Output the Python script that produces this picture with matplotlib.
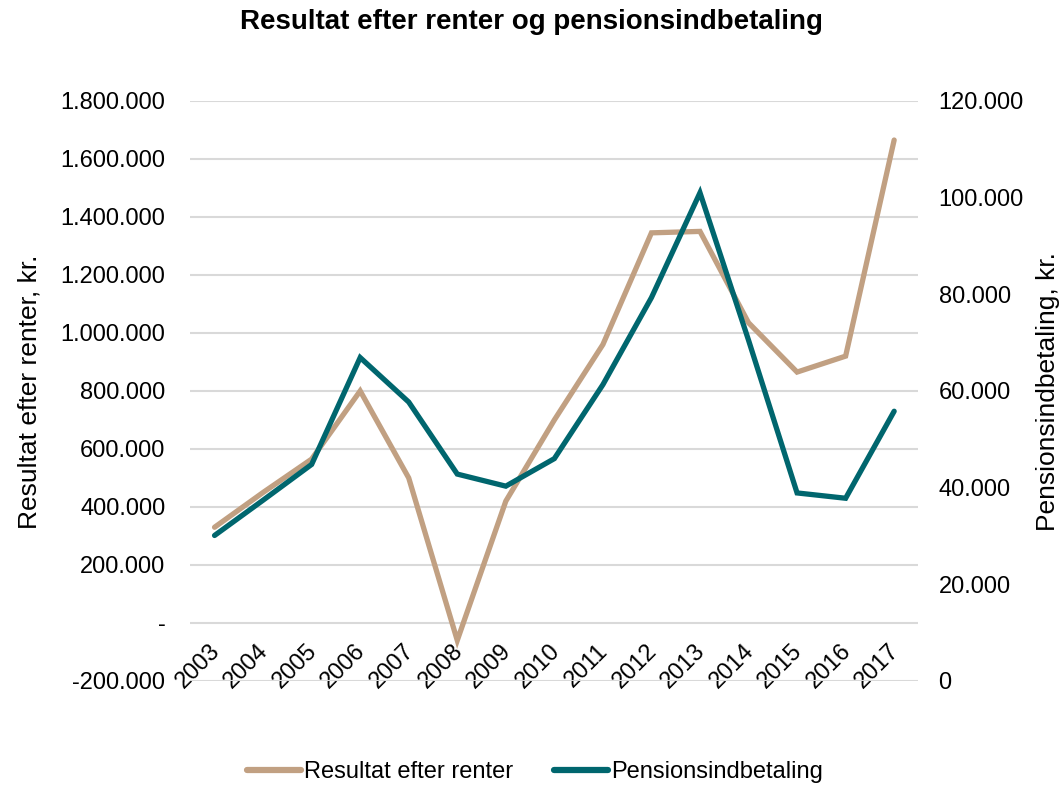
import matplotlib.pyplot as plt
from matplotlib.ticker import FuncFormatter
from matplotlib.transforms import ScaledTranslation
from matplotlib.lines import Line2D

plt.rcParams['font.family'] = ['Liberation Sans', 'DejaVu Sans']

# data
years = [str(y) for y in range(2003, 2018)]
resultat = [330000, 450000, 565000, 800000, 500000, -60000, 420000, 700000,
            960000, 1345000, 1350000, 1035000, 865000, 920000, 1665000]
pension = [30100, 37400, 44800, 66900, 57700, 42800, 40300, 46000,
           61300, 79300, 101000, 70500, 38900, 37800, 55800]

tan = '#C1A082'
teal = '#00666E'


def dk_fmt(v, pos=None):
    # Excel-agtigt format: tusindtalsseparator "." og "-" for nul
    if abs(v) < 0.5:
        return '-'
    s = f'{abs(v):,.0f}'.replace(',', '.')
    return ('-' if v < 0 else '') + s


def dk_fmt_right(v, pos=None):
    if abs(v) < 0.5:
        return '0'
    return f'{v:,.0f}'.replace(',', '.')


fig = plt.figure(figsize=(10.63, 7.85), dpi=100)
ax = fig.add_axes([0.179, 0.1325, 0.685, 0.739])
ax2 = ax.twinx()

x = list(range(len(years)))
ax.plot(x, resultat, color=tan, lw=3.8, solid_capstyle='round', solid_joinstyle='miter', zorder=3)
ax2.plot(x, pension, color=teal, lw=3.8, solid_capstyle='round', solid_joinstyle='miter', zorder=3)

ax.set_xlim(-0.5, len(years) - 0.5)
ax.set_ylim(-200000, 1800000)
ax.set_yticks(range(-200000, 1800001, 200000))
ax.yaxis.set_major_formatter(FuncFormatter(dk_fmt))
ax2.set_ylim(0, 120000)
ax2.set_yticks(range(0, 120001, 20000))
ax2.yaxis.set_major_formatter(FuncFormatter(dk_fmt_right))

ax.grid(axis='y', color='#D9D9D9', lw=1.5)
ax.set_axisbelow(True)
for a in (ax, ax2):
    for s in a.spines.values():
        s.set_visible(False)
    a.tick_params(length=0, labelsize=17)
ax.tick_params(axis='y', pad=18)
ax2.tick_params(axis='y', pad=14.5)

ax.set_xticks(x)
ax.set_xticklabels(years, rotation=45, ha='right', va='center', rotation_mode='anchor', fontsize=17)
ax.tick_params(axis='x', pad=0)
off = ScaledTranslation(0.02, 0.33, fig.dpi_scale_trans)
for lbl in ax.get_xticklabels():
    lbl.set_transform(lbl.get_transform() + off)

# aksetitler og titel
fig.text(30 / 1063, 1 - 392 / 785, 'Resultat efter renter, kr.', fontsize=19,
         rotation=90, ha='center', va='center', rotation_mode='anchor')
fig.text(1048 / 1063, 1 - 392 / 785, 'Pensionsindbetaling, kr.', fontsize=19,
         rotation=90, ha='center', va='center', rotation_mode='anchor')
fig.text(0.5, 1 - 22 / 785, 'Resultat efter renter og pensionsindbetaling',
         fontsize=20, fontweight='bold', ha='center', va='center')

handles = [Line2D([], [], color=tan, lw=4.5, solid_capstyle='round'),
           Line2D([], [], color=teal, lw=4.5, solid_capstyle='round')]
fig.legend(handles, ['Resultat efter renter', 'Pensionsindbetaling'],
           loc='center', bbox_to_anchor=(535 / 1063, 1 - 772 / 785), ncol=2, frameon=False,
           fontsize=17, handlelength=2.3, handletextpad=0.15, columnspacing=1.7,
           borderpad=0, borderaxespad=0)

fig.savefig('out.png', dpi=100)
